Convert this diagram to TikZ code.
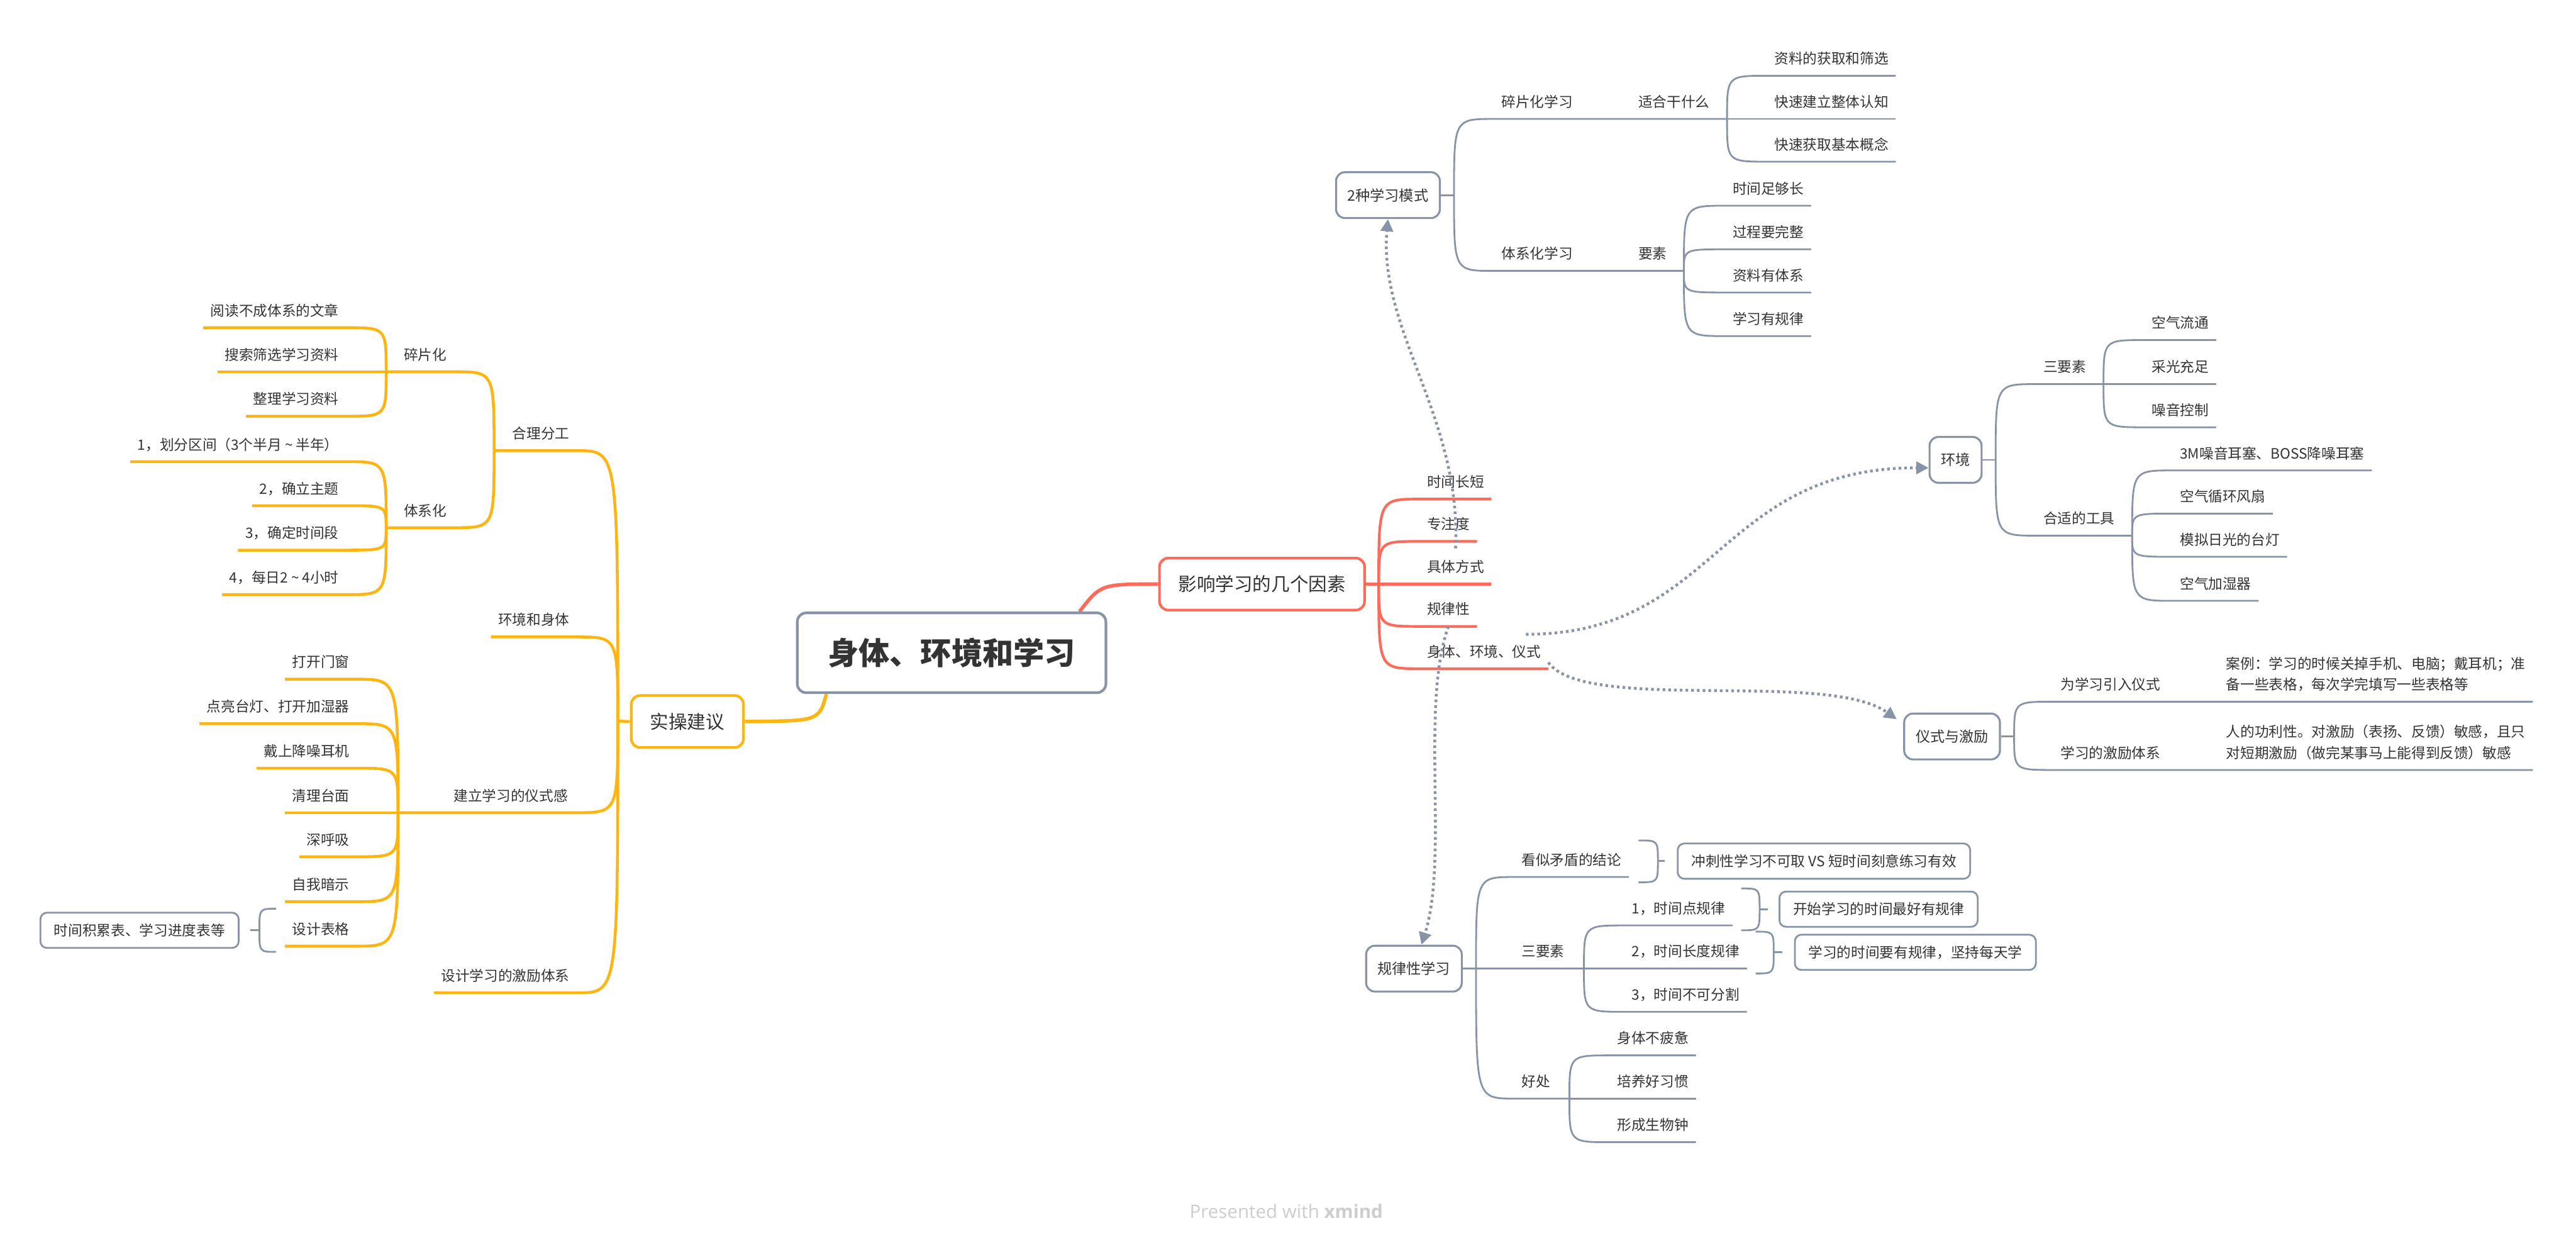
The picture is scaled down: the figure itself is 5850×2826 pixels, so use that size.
\documentclass[tikz,border=0pt]{standalone}
\usepackage{fontspec}
\setmainfont{Noto Sans CJK SC}
\newfontfamily\footfont{Open Sans}
\usetikzlibrary{arrows.meta, positioning, calc, backgrounds}
\definecolor{gline}{HTML}{8794A8}
\definecolor{rline}{HTML}{FF6B5B}
\definecolor{oline}{HTML}{FFB511}
\definecolor{txt}{HTML}{333333}
\definecolor{foot}{HTML}{CDCDCD}

\begin{document}
\begin{tikzpicture}[
  x=0.01cm, y=-0.01cm,
  lbl/.style={inner xsep=0.16cm, inner ysep=0.26cm, text depth=0pt, text=txt, font=\fontsize{9.2}{13.6}\selectfont},
  lr/.style={lbl, anchor=south west},
  ll/.style={lbl, anchor=south east},
  gbox/.style={draw=gline, line width=0.045cm, rounded corners=0.2cm, fill=white, text=txt, font=\fontsize{9.4}{12}\selectfont, inner xsep=0.26cm, minimum height=1.04cm},
  nbox/.style={draw=gline, line width=0.04cm, rounded corners=0.15cm, fill=white, text=txt, font=\fontsize{9.2}{12}\selectfont, inner xsep=0.31cm, minimum height=0.8cm},
  bigbox/.style={line width=0.06cm, rounded corners=0.2cm, fill=white, text=txt, font=\fontsize{12}{14}\selectfont, inner xsep=0.43cm, minimum height=1.18cm},
  gl/.style={draw=gline, line width=0.04cm},
  rl/.style={draw=rline, line width=0.06cm},
  ol/.style={draw=oline, line width=0.065cm},
  br/.style={to path={.. controls (\tikztostart |- \tikztotarget) .. (\tikztotarget)}},
  rel/.style={draw=gline, line width=0.065cm, dash pattern=on 0.06cm off 0.07cm, -{Triangle[length=0.28cm, width=0.28cm]}}
]
\useasboundingbox (0,0) rectangle (5850,2826);

\node[bigbox, draw=gline, font=\fontsize{20}{24}\selectfont\bfseries, inner xsep=0.69cm, minimum height=1.81cm] (root) at (2161,1482) {身体、环境和学习};
\node[bigbox, draw=rline] (yx) at (2866,1326) {影响学习的几个因素};
\node[bigbox, draw=oline] (sc) at (1561,1638) {实操建议};
\begin{scope}[on background layer]
\draw[rl, line width=0.08cm] ($(root.north east)+(-63,0)$) .. controls (2500,1326) .. (yx.west);
\draw[ol, line width=0.08cm] ($(root.south west)+(69,0)$) .. controls (1860,1637) .. (sc.east);
\end{scope}

\coordinate (jy) at (3131,1326);
\node[lr] (sjcd) at (3224,1133) {时间长短};
\node[lr] (zzd) at (3224,1229) {专注度};
\node[lr] (jtfs) at (3224,1326) {具体方式};
\node[lr] (glxg) at (3224,1422) {规律性};
\node[lr] (stj) at (3224,1518) {身体、环境、仪式};
\draw[rl] (yx.east) -- (jy);
\draw[rl] (jy) to[br] (sjcd.south west) -- (sjcd.south east);
\draw[rl] (jy) to[br] (zzd.south west) -- (zzd.south east);
\draw[rl] (jy) to[br] (jtfs.south west) -- (jtfs.south east);
\draw[rl] (jy) to[br] (glxg.south west) -- (glxg.south east);
\draw[rl] (jy) to[br] (stj.south west) -- (stj.south east);

\node[gbox] (ms) at (3152,443) {2种学习模式};
\coordinate (jm) at (3302,443);
\node[lr] (sp) at (3393,270) {碎片化学习};
\node[lr] (tx) at (3393,615) {体系化学习};
\node[lr] (shg) at (3704,270) {适合干什么};
\node[lr] (ys) at (3704,615) {要素};
\coordinate (jshg) at (3922,270);
\coordinate (jys) at (3824,615);
\node[lr] (zl1) at (4013,172) {资料的获取和筛选};
\node[lr] (zl2) at (4013,270) {快速建立整体认知};
\node[lr] (zl3) at (4013,367) {快速获取基本概念};
\node[lr] (yq1) at (3918,467) {时间足够长};
\node[lr] (yq2) at (3918,566) {过程要完整};
\node[lr] (yq3) at (3918,664) {资料有体系};
\node[lr] (yq4) at (3918,763) {学习有规律};
\draw[gl] (ms.east) -- (jm);
\draw[gl] (jm) to[br] (sp.south west) -- (sp.south east) -- (shg.south west) -- (shg.south east) -- (jshg);
\draw[gl] (jm) to[br] (tx.south west) -- (tx.south east) -- (ys.south west) -- (ys.south east) -- (jys);
\draw[gl] (jshg) to[br] (zl1.south west) -- (zl1.south east);
\draw[gl] (jshg) to[br] (zl2.south west) -- (zl2.south east);
\draw[gl] (jshg) to[br] (zl3.south west) -- (zl3.south east);
\draw[gl] (jys) to[br] (yq1.south west) -- (yq1.south east);
\draw[gl] (jys) to[br] (yq2.south west) -- (yq2.south east);
\draw[gl] (jys) to[br] (yq3.south west) -- (yq3.south east);
\draw[gl] (jys) to[br] (yq4.south west) -- (yq4.south east);

\node[gbox] (hj) at (4441,1044) {环境};
\coordinate (jhj) at (4532,1044);
\node[lr] (sys) at (4624,872) {三要素};
\node[lr] (gj) at (4624,1216) {合适的工具};
\coordinate (jsys) at (4777,872);
\coordinate (jgj) at (4842,1216);
\node[lr] (hj1) at (4870,772) {空气流通};
\node[lr] (hj2) at (4870,872) {采光充足};
\node[lr] (hj3) at (4870,970) {噪音控制};
\node[lr] (gj1) at (4934,1068) {3M噪音耳塞、BOSS降噪耳塞};
\node[lr] (gj2) at (4934,1166) {空气循环风扇};
\node[lr] (gj3) at (4934,1264) {模拟日光的台灯};
\node[lr] (gj4) at (4934,1364) {空气加湿器};
\draw[gl] (hj.east) -- (jhj);
\draw[gl] (jhj) to[br] (sys.south west) -- (sys.south east) -- (jsys);
\draw[gl] (jhj) to[br] (gj.south west) -- (gj.south east) -- (jgj);
\draw[gl] (jsys) to[br] (hj1.south west) -- (hj1.south east);
\draw[gl] (jsys) to[br] (hj2.south west) -- (hj2.south east);
\draw[gl] (jsys) to[br] (hj3.south west) -- (hj3.south east);
\draw[gl] (jgj) to[br] (gj1.south west) -- (gj1.south east);
\draw[gl] (jgj) to[br] (gj2.south west) -- (gj2.south east);
\draw[gl] (jgj) to[br] (gj3.south west) -- (gj3.south east);
\draw[gl] (jgj) to[br] (gj4.south west) -- (gj4.south east);

\node[gbox] (ysj) at (4433,1672) {仪式与激励};
\coordinate (jyj) at (4574,1672);
\node[lr] (yrys) at (4663,1593) {为学习引入仪式};
\node[lr] (jltx) at (4663,1748) {学习的激励体系};
\node[lr, align=left] (anli) at (5039,1593) {案例：学习的时候关掉手机、电脑；戴耳机；准\\备一些表格，每次学完填写一些表格等};
\node[lr, align=left] (gongli) at (5039,1748) {人的功利性。对激励（表扬、反馈）敏感，且只\\对短期激励（做完某事马上能得到反馈）敏感};
\draw[gl] (ysj.east) -- (jyj);
\draw[gl] (jyj) to[br] (yrys.south west) -- (yrys.south east) -- (anli.south west) -- (anli.south east);
\draw[gl] (jyj) to[br] (jltx.south west) -- (jltx.south east) -- (gongli.south west) -- (gongli.south east);

\node[gbox] (glx) at (3211,2199) {规律性学习};
\coordinate (jgl) at (3352,2199);
\node[lr] (ksmd) at (3439,1991) {看似矛盾的结论};
\node[lr] (sy2) at (3439,2199) {三要素};
\node[lr] (hc) at (3439,2494) {好处};
\coordinate (jsy2) at (3597,2199);
\coordinate (jhc) at (3564,2494);
\node[lr] (gl1) at (3689,2101) {1，时间点规律};
\node[lr] (gl2) at (3689,2199) {2，时间长度规律};
\node[lr] (gl3) at (3689,2297) {3，时间不可分割};
\node[lr] (hc1) at (3656,2396) {身体不疲惫};
\node[lr] (hc2) at (3656,2494) {培养好习惯};
\node[lr] (hc3) at (3656,2593) {形成生物钟};
\draw[gl] (glx.east) -- (jgl);
\draw[gl] (jgl) to[br] (ksmd.south west) -- (ksmd.south east);
\draw[gl] (jgl) to[br] (sy2.south west) -- (sy2.south east) -- (jsy2);
\draw[gl] (jgl) to[br] (hc.south west) -- (hc.south east) -- (jhc);
\draw[gl] (jsy2) to[br] (gl1.south west) -- (gl1.south east);
\draw[gl] (jsy2) to[br] (gl2.south west) -- (gl2.south east);
\draw[gl] (jsy2) to[br] (gl3.south west) -- (gl3.south east);
\draw[gl] (jhc) to[br] (hc1.south west) -- (hc1.south east);
\draw[gl] (jhc) to[br] (hc2.south west) -- (hc2.south east);
\draw[gl] (jhc) to[br] (hc3.south west) -- (hc3.south east);

\coordinate (bs1) at (3781,1955);
\coordinate (bs2) at (4014,2064);
\coordinate (bs3) at (4047,2162);
\node[nbox, right=0.27cm of bs1] (cb1) {冲刺性学习不可取 VS 短时间刻意练习有效};
\node[nbox, right=0.25cm of bs2] (cb2) {开始学习的时间最好有规律};
\node[nbox, right=0.27cm of bs3] (cb3) {学习的时间要有规律，坚持每天学};
\draw[gl] (3721,1908) .. controls (3765,1908) .. (3765,1955) .. controls (3765,2003) .. (3721,2003);
\draw[gl] (3765,1955) -- (bs1);
\draw[gl] (3954,2017) .. controls (3996,2017) .. (3996,2064) .. controls (3996,2112) .. (3954,2112);
\draw[gl] (3996,2064) -- (bs2);
\draw[gl] (3987,2115) .. controls (4028,2115) .. (4028,2162) .. controls (4028,2210) .. (3987,2210);
\draw[gl] (4028,2162) -- (bs3);

\coordinate (js) at (1403,1637);
\node[ll] (hlfg) at (1310,1023) {合理分工};
\node[ll] (hjst) at (1310,1446) {环境和身体};
\node[ll] (jlys) at (1306,1845) {建立学习的仪式感\hspace{0.89cm}};
\node[ll] (sjjl) at (1310,2254) {设计学习的激励体系};
\coordinate (jh) at (1122,1023);
\coordinate (jjl) at (904,1845);
\node[ll] (spk) at (1031,844) {碎片化};
\node[ll] (txh) at (1031,1198) {体系化};
\coordinate (jspk) at (877,844);
\coordinate (jtxh) at (877,1198);
\node[ll] (sp1) at (786,744) {阅读不成体系的文章};
\node[ll] (sp2) at (786,844) {搜索筛选学习资料};
\node[ll] (sp3) at (786,945) {整理学习资料};
\node[ll] (tx1) at (786,1048) {1，划分区间（3个半月 \textasciitilde{} 半年）};
\node[ll] (tx2) at (786,1148) {2，确立主题};
\node[ll] (tx3) at (786,1249) {3，确定时间段};
\node[ll] (tx4) at (786,1350) {4，每日2 \textasciitilde{} 4小时};
\node[ll] (ys1) at (810,1542) {打开门窗};
\node[ll] (ys2) at (810,1643) {点亮台灯、打开加湿器};
\node[ll] (ys3) at (810,1744) {戴上降噪耳机};
\node[ll] (ys4) at (810,1845) {清理台面};
\node[ll] (ys5) at (810,1945) {深呼吸};
\node[ll] (ys6) at (810,2047) {自我暗示};
\node[ll] (ys7) at (810,2148) {设计表格};
\draw[ol] (sc.west) -- (js);
\draw[ol] (js) to[br] (hlfg.south east) -- (hlfg.south west) -- (jh);
\draw[ol] (js) to[br] (hjst.south east) -- (hjst.south west);
\draw[ol] (js) to[br] (jlys.south east) -- (jlys.south west) -- (jjl);
\draw[ol] (js) to[br] (sjjl.south east) -- (sjjl.south west);
\draw[ol] (jh) to[br] (spk.south east) -- (spk.south west) -- (jspk);
\draw[ol] (jh) to[br] (txh.south east) -- (txh.south west) -- (jtxh);
\draw[ol] (jspk) to[br] (sp1.south east) -- (sp1.south west);
\draw[ol] (jspk) to[br] (sp2.south east) -- (sp2.south west);
\draw[ol] (jspk) to[br] (sp3.south east) -- (sp3.south west);
\draw[ol] (jtxh) to[br] (tx1.south east) -- (tx1.south west);
\draw[ol] (jtxh) to[br] (tx2.south east) -- (tx2.south west);
\draw[ol] (jtxh) to[br] (tx3.south east) -- (tx3.south west);
\draw[ol] (jtxh) to[br] (tx4.south east) -- (tx4.south west);
\draw[ol] (jjl) to[br] (ys1.south east) -- (ys1.south west);
\draw[ol] (jjl) to[br] (ys2.south east) -- (ys2.south west);
\draw[ol] (jjl) to[br] (ys3.south east) -- (ys3.south west);
\draw[ol] (jjl) to[br] (ys4.south east) -- (ys4.south west);
\draw[ol] (jjl) to[br] (ys5.south east) -- (ys5.south west);
\draw[ol] (jjl) to[br] (ys6.south east) -- (ys6.south west);
\draw[ol] (jjl) to[br] (ys7.south east) -- (ys7.south west);

\coordinate (bs4) at (569,2112);
\node[nbox, left=0.25cm of bs4] (cb4) {时间积累表、学习进度表等};
\draw[gl] (627,2063) .. controls (589,2063) .. (589,2112) .. controls (589,2161) .. (627,2161);
\draw[gl] (589,2112) -- (bs4);

\draw[rel] ($(jtfs.south)+(0,-81)$) .. controls (3320,950) and (3130,750) .. (ms.south);
\draw[rel] (glxg.south) .. controls (3225,1600) and (3290,1950) .. ([xshift=0.17cm]glx.north);
\draw[rel] ($(stj.south east)+(-51,-78)$) .. controls (3900,1440) and (3900,1062) .. ([yshift=-0.18cm]hj.west);
\draw[rel] ($(stj.south east)+(0,-14)$) .. controls (3600,1620) and (4150,1520) .. ([xshift=-0.15cm, yshift=-0.15cm]ysj.north west);

\node[font=\footfont\fontsize{12}{14}\selectfont, text=foot] (ft) at (2921,2750) {Presented with \textbf{xmind}};
\end{tikzpicture}
\end{document}
